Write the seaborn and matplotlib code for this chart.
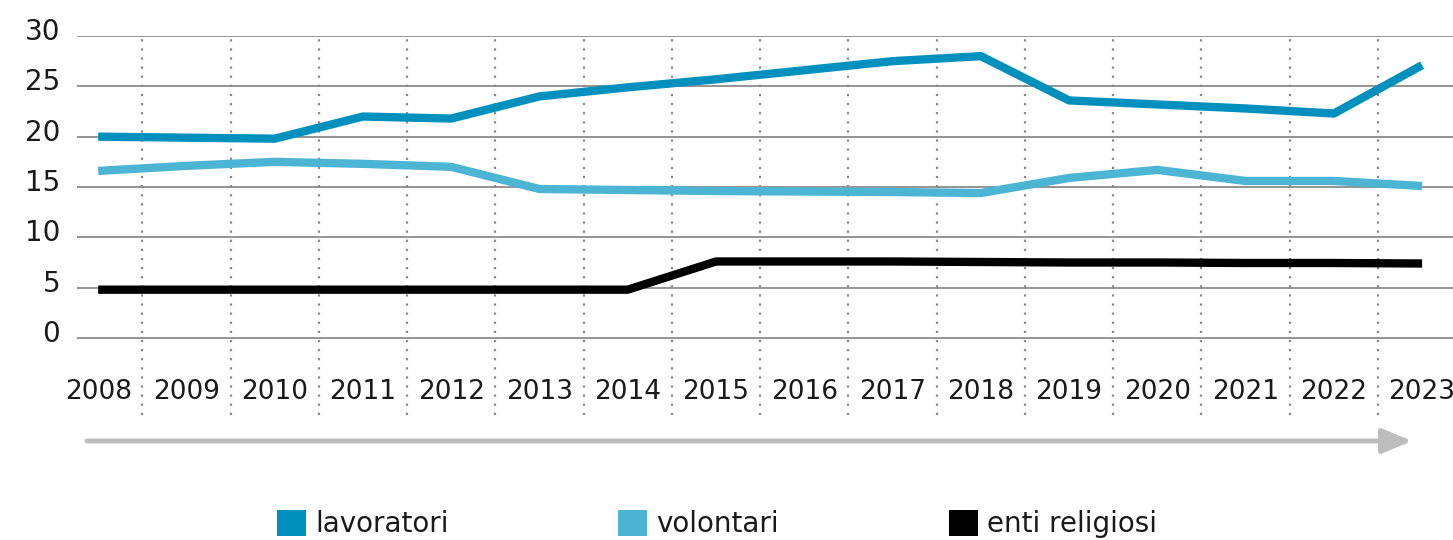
import pandas as pd
import matplotlib
matplotlib.use('Agg')
import matplotlib.pyplot as plt
import seaborn as sns
from matplotlib.patches import Patch
from matplotlib.transforms import ScaledTranslation

sns.set_theme(style='white')
plt.rcParams['font.family'] = ['DejaVu Sans']

# dati
anni = list(range(2008, 2024))
lavoratori = [20.0, 19.9, 19.8, 22.0, 21.8, 24.0, 24.9, 25.7, 26.6, 27.5, 28.0, 23.6, 23.2, 22.8, 22.3, 27.1]
volontari = [16.6, 17.1, 17.5, 17.3, 17.0, 14.8, 14.7, 14.6, 14.55, 14.5, 14.4, 15.9, 16.7, 15.6, 15.6, 15.1]
enti_religiosi = [4.8, 4.8, 4.8, 4.8, 4.8, 4.8, 4.8, 7.6, 7.6, 7.6, 7.55, 7.5, 7.5, 7.45, 7.45, 7.4]
serie = ['lavoratori', 'volontari', 'enti religiosi']
colori = ['#0090bd', '#4bb5d3', '#000000']
y_ticks = [0, 5, 10, 15, 20, 25, 30]

df = pd.DataFrame({'anno': anni, 'lavoratori': lavoratori,
                   'volontari': volontari, 'enti religiosi': enti_religiosi})
df = df.melt(id_vars='anno', var_name='serie', value_name='valore')

W, H = 1453, 540
fig = plt.figure(figsize=(W / 100, H / 100), dpi=100)
ax = fig.add_axes([77 / W, 1 - 415 / H, 1 - 77 / W, (415 - 36) / H])

# griglia orizzontale e linee tratteggiate verticali
for v in y_ticks:
    ax.axhline(v, color='#777777', lw=1.1, zorder=1)
for a in anni[:-1]:
    ax.axvline(a + 0.5, color='#888888', lw=1.6, ls=(0, (1, 3.1)), zorder=1)

sns.lineplot(data=df, x='anno', y='valore', hue='serie', hue_order=serie,
             palette=dict(zip(serie, colori)), lw=6, ax=ax, legend=False,
             solid_capstyle='butt', zorder=3)

ax.set_xlim(2007.76, 2023.35)
ax.set_ylim(-7.65, 30)
ax.set_xlabel('')
ax.set_ylabel('')
for s in ax.spines.values():
    s.set_visible(False)

ax.set_xticks([])
ax.set_yticks(y_ticks)
ax.set_yticklabels([str(v) for v in y_ticks])
ax.tick_params(axis='y', length=0, pad=12, labelsize=20, labelcolor='#1a1a1a')
off = ScaledTranslation(0, 7 / 100, fig.dpi_scale_trans)
for lbl in ax.get_yticklabels():
    lbl.set_transform(lbl.get_transform() + off)

for a in anni:
    ax.text(a, -5.4, str(a), ha='center', va='center', fontsize=19, color='#1a1a1a')

# freccia del tempo
ax.annotate('', xy=(1412 / W, 1 - 441 / H), xytext=(87 / W, 1 - 441 / H),
            xycoords='figure fraction', textcoords='figure fraction',
            arrowprops=dict(arrowstyle='-|>,head_length=0.6,head_width=0.25',
                            color='#bdbdbd', lw=3.6, mutation_scale=30,
                            shrinkA=0, shrinkB=0))

handles = [Patch(facecolor=c, edgecolor='none', label=s) for s, c in zip(serie, colori)]
fig.legend(handles=handles, loc='center left', bbox_to_anchor=(277 / W, 16 / H),
           ncol=3, frameon=False, fontsize=20, handlelength=1.05, handleheight=1.05,
           handletextpad=0.33, columnspacing=6.1, borderpad=0, borderaxespad=0,
           labelcolor='#1a1a1a')

fig.savefig('out.png', dpi=100)
